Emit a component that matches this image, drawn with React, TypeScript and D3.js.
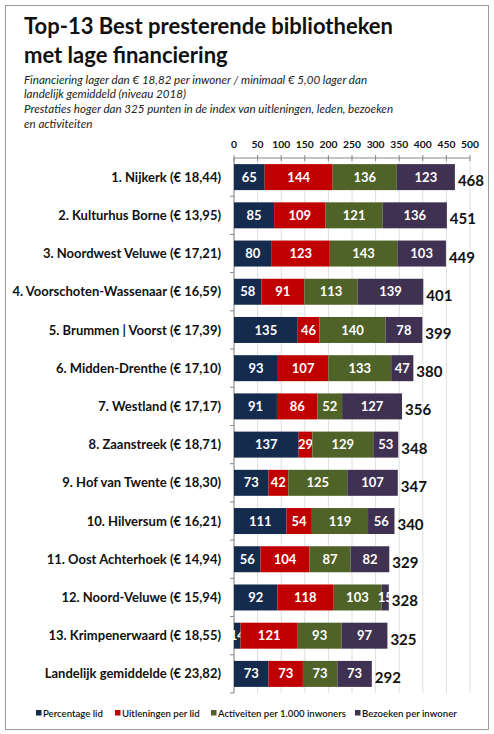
import React from 'react';
import { scaleLinear, scaleBand, stack } from 'd3';

const categories = [
  '1. Nijkerk (€ 18,44)',
  '2. Kulturhus Borne (€ 13,95)',
  '3. Noordwest Veluwe (€ 17,21)',
  '4. Voorschoten-Wassenaar (€ 16,59)',
  '5. Brummen | Voorst (€ 17,39)',
  '6. Midden-Drenthe (€ 17,10)',
  '7. Westland (€ 17,17)',
  '8. Zaanstreek (€ 18,71)',
  '9. Hof van Twente (€ 18,30)',
  '10. Hilversum (€ 16,21)',
  '11. Oost Achterhoek (€ 14,94)',
  '12. Noord-Veluwe (€ 15,94)',
  '13. Krimpenerwaard (€ 18,55)',
  'Landelijk gemiddelde (€ 23,82)',
];

const percentageLid = [65, 85, 80, 58, 135, 93, 91, 137, 73, 111, 56, 92, 14, 73];
const uitleningen = [144, 109, 123, 91, 46, 107, 86, 29, 42, 54, 104, 118, 121, 73];
const activiteiten = [136, 121, 143, 113, 140, 133, 52, 129, 125, 119, 87, 103, 93, 73];
const bezoeken = [123, 136, 103, 139, 78, 47, 127, 53, 107, 56, 82, 15, 97, 73];

const seriesNames = [
  'Percentage lid',
  'Uitleningen per lid',
  'Activeiten per 1.000 inwoners',
  'Bezoeken per inwoner',
];
const seriesColors = ['#152b4e', '#c00000', '#4f6228', '#3f3151'];
const ticks = [0, 50, 100, 150, 200, 250, 300, 350, 400, 450, 500];

const subtitle = [
  'Financiering lager dan € 18,82 per inwoner / minimaal € 5,00 lager dan',
  'landelijk gemiddeld (niveau 2018)',
  'Prestaties hoger dan 325 punten in de index van uitleningen, leden, bezoeken',
  'en activiteiten',
];

const font = 'Lato, "Open Sans", sans-serif';

const App = () => {
  const rows = categories.map((c, i) => ({
    name: c,
    s0: percentageLid[i],
    s1: uitleningen[i],
    s2: activiteiten[i],
    s3: bezoeken[i],
  }));
  const stacked = stack<any>().keys(['s0', 's1', 's2', 's3'])(rows);

  const x = scaleLinear().domain([0, 500]).range([234, 470]);
  const y = scaleBand().domain(categories).range([158, 693]).paddingInner(0.32).paddingOuter(0.16);
  const bw = y.bandwidth();

  const legendX = [36, 115, 211, 355];

  return (
    <svg width={494} height={734} style={{ position: 'absolute', left: 0, top: 0, background: '#fff' }}>
      <rect x={5.5} y={5.5} width={483} height={724} fill="#fff" stroke="#9a9a9a" strokeWidth={1} />
      <text x={24} y={34} fontFamily={font} fontWeight={700} fontSize={22} fill="#111">
        Top-13 Best presterende bibliotheken
      </text>
      <text x={24} y={63} fontFamily={font} fontWeight={700} fontSize={22} fill="#111">
        met lage financiering
      </text>
      {subtitle.map((s, i) => (
        <text key={i} x={24} y={83.5 + i * 14.7} fontFamily={font} fontStyle="italic" fontSize={11.6} fill="#222">
          {s}
        </text>
      ))}

      {ticks.map((t) => (
        <g key={t}>
          <line x1={x(t)} x2={x(t)} y1={158} y2={693} stroke="#dedede" strokeWidth={1} />
          <line x1={x(t)} x2={x(t)} y1={155} y2={161} stroke="#888" />
          <text x={x(t)} y={148} textAnchor="middle" fontFamily={font} fontWeight={700} fontSize={10.3} fill="#111">
            {t}
          </text>
        </g>
      ))}
      <line x1={x(0)} x2={x(500)} y1={158} y2={158} stroke="#888" />
      <line x1={x(0)} x2={x(0)} y1={158} y2={693} stroke="#888" />
      {categories.map((c, i) => (
        <line key={c} x1={x(0) - 4} x2={x(0)} y1={158 + (i + 1) * (535 / 14)} y2={158 + (i + 1) * (535 / 14)} stroke="#888" />
      ))}

      {stacked.map((layer, si) => (
        <g key={si}>
          {layer.map((d, i) => {
            const x0 = x(d[0]);
            const x1 = x(d[1]);
            const yy = y(categories[i]) as number;
            return (
              <g key={i}>
                <rect x={x0} y={yy} width={x1 - x0} height={bw} fill={seriesColors[si]} />
                <text
                  x={(x0 + x1) / 2}
                  y={yy + bw / 2 + 4.6}
                  textAnchor="middle"
                  fontFamily={font}
                  fontWeight={700}
                  fontSize={13}
                  fill="#fff"
                >
                  {d[1] - d[0]}
                </text>
              </g>
            );
          })}
        </g>
      ))}

      {rows.map((r) => {
        const total = r.s0 + r.s1 + r.s2 + r.s3;
        const yy = y(r.name) as number;
        return (
          <g key={r.name}>
            <text x={221} y={yy + bw / 2 + 4.6} textAnchor="end" fontFamily={font} fontWeight={700} fontSize={13} fill="#111">
              {r.name}
            </text>
            <text x={x(total) + 3} y={yy + bw / 2 + 9} fontFamily={font} fontWeight={700} fontSize={15} fill="#111">
              {total}
            </text>
          </g>
        );
      })}

      {seriesNames.map((s, i) => (
        <g key={s}>
          <rect x={legendX[i]} y={710} width={5.5} height={5.5} fill={seriesColors[i]} />
          <text x={legendX[i] + 7} y={716.5} fontFamily={font} fontWeight={600} fontSize={9.6} fill="#111">
            {s}
          </text>
        </g>
      ))}
    </svg>
  );
};

export default App;
